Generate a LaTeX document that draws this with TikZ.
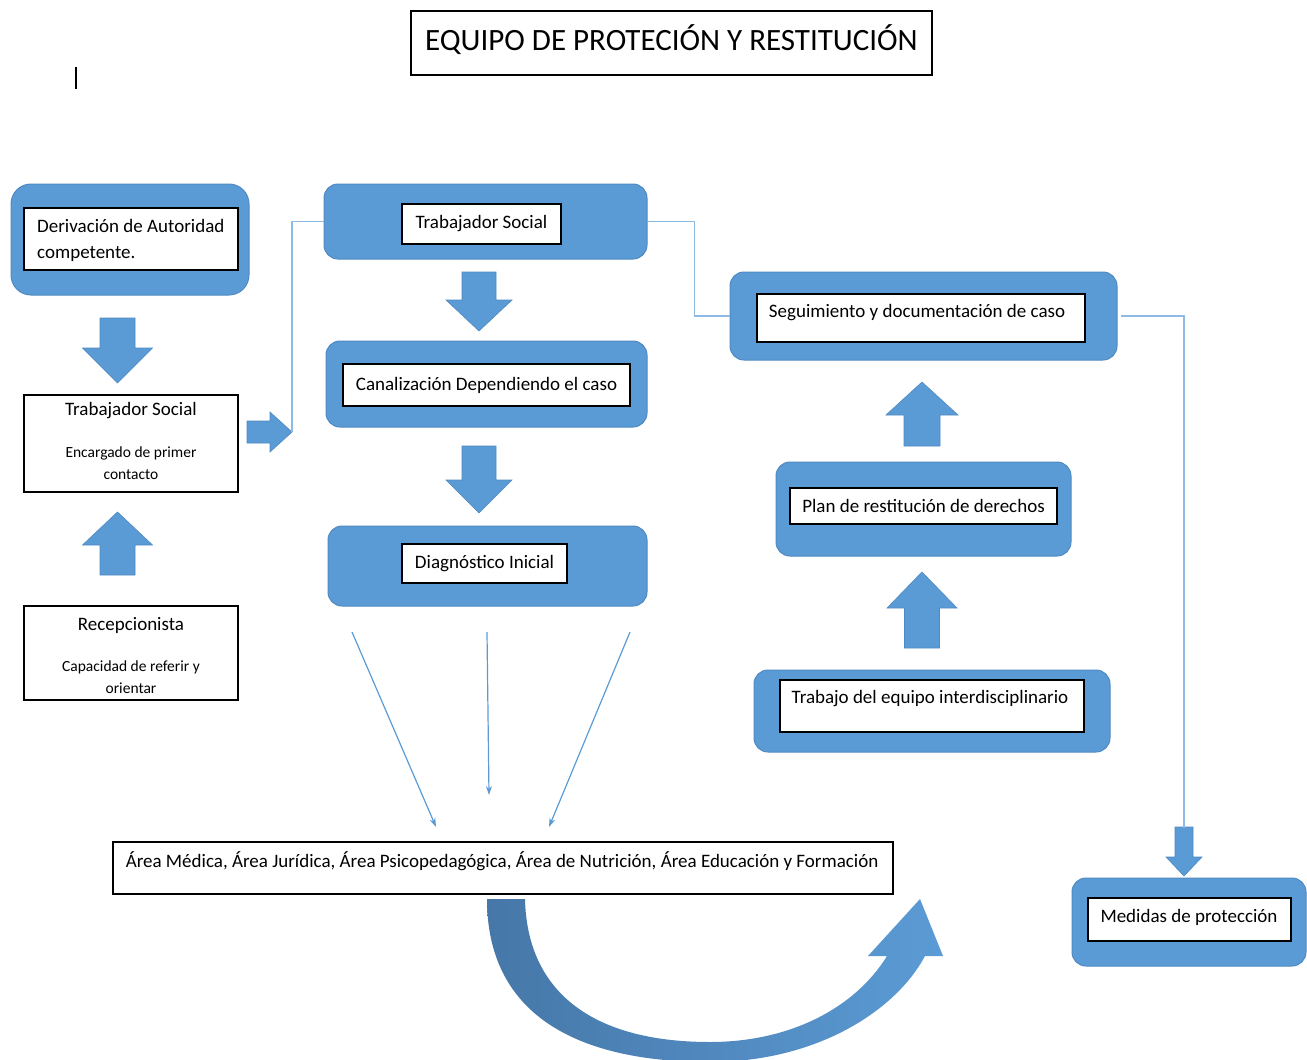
\documentclass[tikz,border=0pt]{standalone}
\usepackage{fontspec}
\setmainfont{Carlito}
\usetikzlibrary{arrows.meta}
\definecolor{boxblue}{HTML}{5B9BD5}
\definecolor{boxedge}{HTML}{4F89C2}
\definecolor{connblue}{HTML}{8DBBE6}
\definecolor{darkblue}{HTML}{4677A8}
\newcommand\vblock[6]{\fill[boxblue,draw=boxedge,line width=0.6pt] ({#1-#2},#4) -- ({#1+#2},#4) -- ({#1+#2},#5) -- ({#1+#3},#5) -- (#1,#6) -- ({#1-#3},#5) -- ({#1-#2},#5) -- cycle;}
\newcommand\hblock[6]{\fill[boxblue,draw=boxedge,line width=0.6pt] (#4,{#1-#2}) -- (#4,{#1+#2}) -- (#5,{#1+#2}) -- (#5,{#1+#3}) -- (#6,#1) -- (#5,{#1-#3}) -- (#5,{#1-#2}) -- cycle;}
\tikzset{
  bluebox/.style={fill=boxblue, draw=boxedge, line width=1pt, rounded corners=14pt, inner sep=0pt},
  whitebox/.style={fill=white, draw=black, line width=1.3pt, inner sep=0pt},
  plainbox/.style={fill=white, draw=black, line width=1.1pt, inner sep=0pt},
  lbl/.style={font=\fontsize{19}{22}\selectfont, inner sep=0pt},
  smalllbl/.style={font=\fontsize{15.5}{22}\selectfont, inner sep=0pt},
  conn/.style={draw=connblue, line width=1.6pt},
  thinarrow/.style={draw=boxblue, line width=1.2pt, -{Stealth[length=9pt,width=6pt]}},
}
\begin{document}
\begin{tikzpicture}[x=1pt,y=-1pt]
\useasboundingbox (0,0) rectangle (1307,1060);
\clip (0,0) rectangle (1307,1060);

% title
\node[plainbox, minimum width=521pt, minimum height=64pt] (title) at (671.5,43) {};
\node[inner sep=0pt, font=\fontsize{31}{34}\selectfont] (titletext) at (671.5,40) {EQUIPO DE PROTECIÓN Y RESTITUCIÓN};
\draw[line width=1.2pt] (76,67) -- (76,89);

% left column
\node[bluebox, rounded corners=20pt, minimum width=238pt, minimum height=111pt] (derivO) at (130,239.5) {};
\node[whitebox, minimum width=214pt, minimum height=62pt] (derivI) at (131,239) {};
\node[lbl, anchor=west, align=left, font=\fontsize{19}{26}\selectfont] (derivT) at (37,240) {Derivación de Autoridad\\competente.};

\node[plainbox, minimum width=214pt, minimum height=97pt] (ts1) at (131,443.5) {};
\node[lbl] (ts1a) at (131,411) {Trabajador Social};
\node[smalllbl, align=center] (ts1b) at (131,463) {Encargado de primer\\contacto};

\node[plainbox, minimum width=214pt, minimum height=94pt] (recep) at (131,653) {};
\node[lbl] (recepa) at (131,625) {Recepcionista};
\node[smalllbl, align=center] (recepb) at (131,677) {Capacidad de referir y\\orientar};

\vblock{117.5}{17.5}{35}{318}{348}{383}
\vblock{117.5}{17.5}{35}{575}{545}{512}
\hblock{432}{11}{20}{247}{270}{292}
\coordinate (rtip) at (292,432);

% center column
\node[bluebox, minimum width=323pt, minimum height=75pt] (tsO) at (485.5,221.5) {};
\node[whitebox, minimum width=159pt, minimum height=40pt, lbl] (tsI) at (481.5,224) {Trabajador Social};

\node[bluebox, minimum width=321pt, minimum height=86pt] (canO) at (486.5,384) {};
\node[whitebox, minimum width=287pt, minimum height=42pt, lbl] (canI) at (486.5,385) {Canalización Dependiendo el caso};

\node[bluebox, minimum width=319pt, minimum height=80pt] (diaO) at (487.5,566) {};
\node[whitebox, minimum width=165pt, minimum height=39pt, lbl] (diaI) at (484.5,563.5) {Diagnóstico Inicial};

\vblock{479}{17}{33}{272}{300}{331}
\vblock{479}{17}{33}{446}{480}{513}

\coordinate (d1) at (352,632);
\coordinate (d2) at (487,632);
\coordinate (d3) at (630,632);
\coordinate (a1) at (436,827);
\coordinate (a2) at (489,795);
\coordinate (a3) at (549,827);
\draw[thinarrow] (d1) -- (a1);
\draw[thinarrow] (d2) -- (a2);
\draw[thinarrow] (d3) -- (a3);

\node[plainbox, minimum width=780pt, minimum height=52pt] (area) at (503,868) {};
\node[lbl] (areat) at (502,861) {Área Médica, Área Jurídica, Área Psicopedagógica, Área de Nutrición, Área Educación y Formación};

% curved arrow
\path[left color=darkblue, right color=boxblue, shading angle=90]
  (487,899) .. controls (487,1010) and (570,1062) .. (710,1062)
  .. controls (815,1062) and (895,1012) .. (925,956)
  -- (943,956) -- (920,899) -- (868,956) -- (887,956)
  .. controls (855,1008) and (790,1042) .. (710,1042)
  .. controls (590,1042) and (527,990) .. (525,899) -- cycle;

% right column
\node[bluebox, minimum width=387pt, minimum height=88pt] (segO) at (923.5,316) {};
\node[whitebox, minimum width=328pt, minimum height=48pt] (segI) at (921,318) {};
\node[lbl] (segT) at (917,313) {Seguimiento y documentación de caso};

\vblock{922}{18}{36}{446}{415}{382}

\node[bluebox, minimum width=295pt, minimum height=94pt] (planO) at (923.5,509) {};
\node[whitebox, minimum width=267pt, minimum height=36pt, lbl] (planI) at (923.5,506) {Plan de restitución de derechos};

\vblock{922}{17.5}{35}{648}{608}{572}

\node[bluebox, minimum width=356pt, minimum height=82pt] (trabO) at (932,711) {};
\node[whitebox, minimum width=304pt, minimum height=52pt] (trabI) at (932,706) {};
\node[lbl] (trabT) at (930,699) {Trabajo del equipo interdisciplinario};

\node[bluebox, minimum width=234pt, minimum height=88pt] (medO) at (1189,922) {};
\node[whitebox, minimum width=203pt, minimum height=43pt] (medI) at (1189.5,919.5) {};
\node[lbl] (medT) at (1189,917) {Medidas de protección};

\coordinate (medtail) at (1184,828);
\vblock{1184}{9}{18}{827}{857}{876}

% connectors
\draw[conn] (rtip) |- (tsO.west);
\draw[conn] (tsO.east) -- ++(47,0) |- (segO.west);
\draw[conn] ([xshift=3pt]segO.east) -| (medtail);
\end{tikzpicture}
\end{document}
